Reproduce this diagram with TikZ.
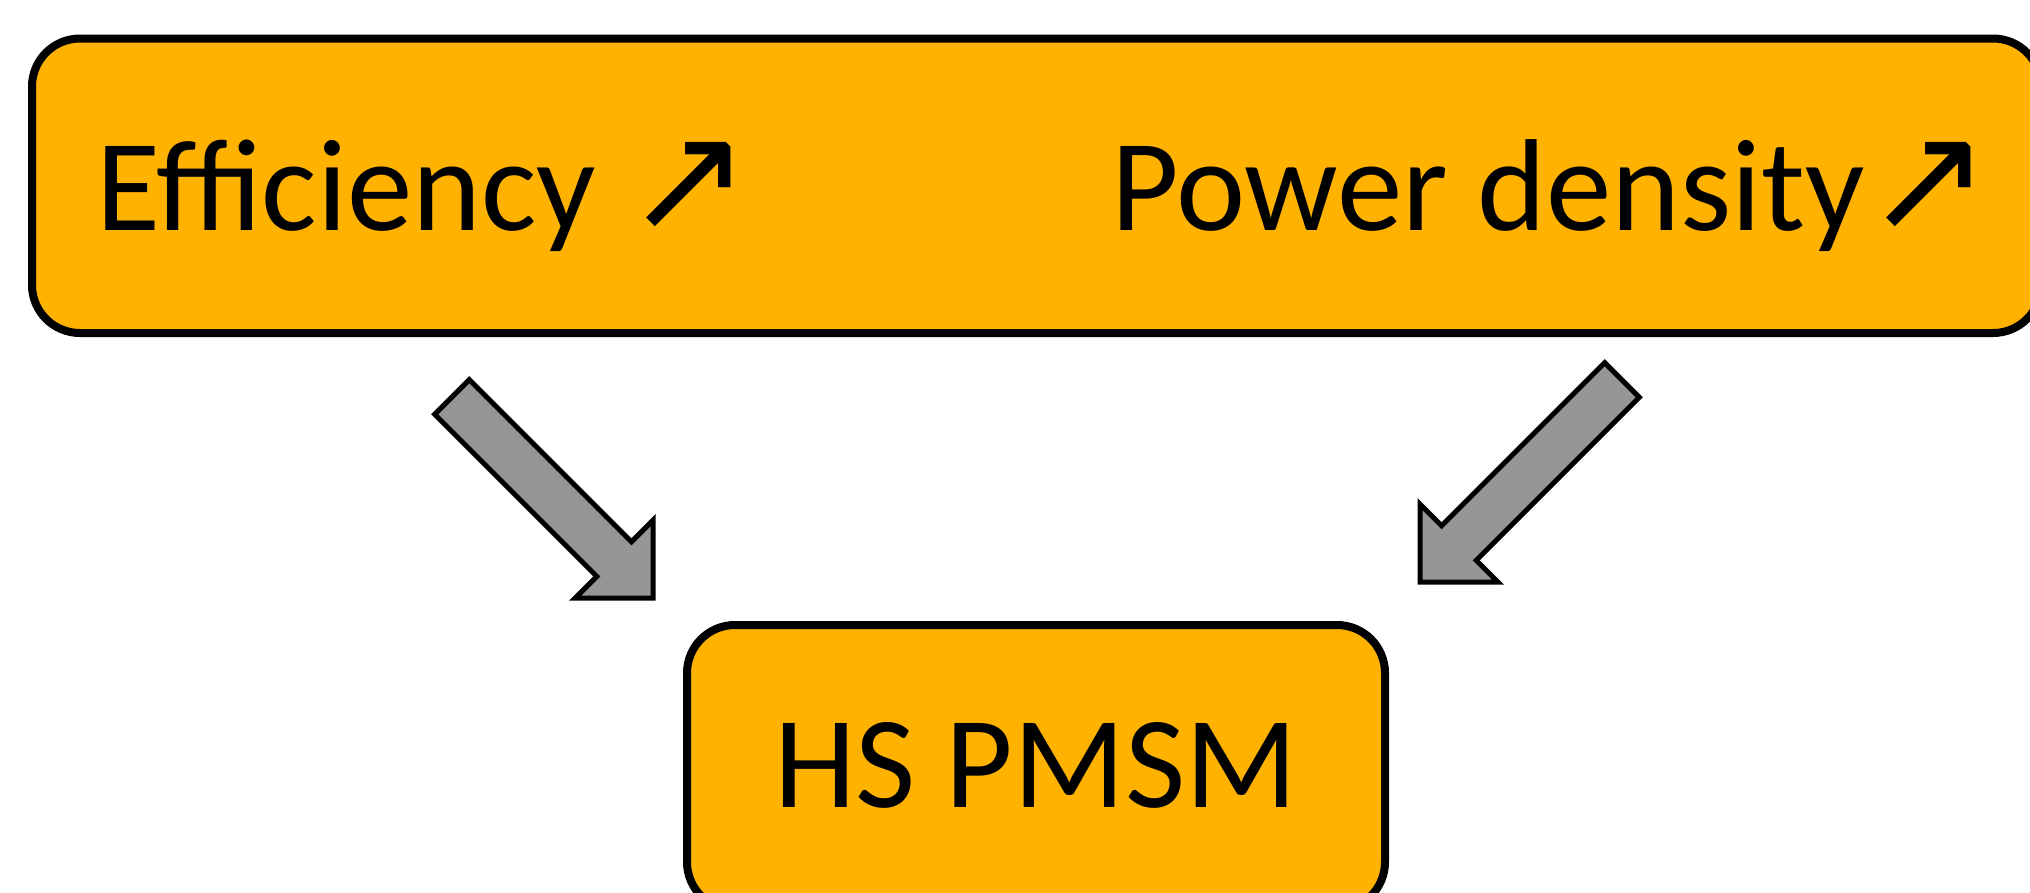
\documentclass[tikz,border=0pt]{standalone}
\usepackage{fontspec}
\setmainfont{Carlito}
\newfontfamily\arrowfont{DejaVu Sans}
\usetikzlibrary{calc}
\definecolor{boxorange}{RGB}{255,178,0}
\definecolor{arrowgray}{RGB}{150,150,150}
\newcommand{\upar}{{\arrowfont\fontsize{150}{160}\selectfont ↗}}
\tikzset{
  roundbox/.style={draw=black, line width=8pt, fill=boxorange, rounded corners=48pt, inner sep=0pt},
  bigtext/.style={inner sep=0pt, font=\fontsize{131}{157}\selectfont},
  blockarrow/.style={draw=black, line width=5pt, fill=arrowgray, line join=miter}
}
\begin{document}
\begin{tikzpicture}[x=1pt,y=-1pt]
\useasboundingbox (0,0) rectangle (2030,892);
% top box
\node[roundbox, minimum width=2009pt, minimum height=294.5pt] (top) at (1036.5,185.75) {};
\node[bigtext, anchor=base west] (eff) at (96,230) {Efficiency \upar};
\node[bigtext, anchor=base west] (pow) at (1111,230) {Power density\upar};
% bottom box
\node[roundbox, minimum width=698pt, minimum height=285pt] (bot) at (1036,767.5) {};
\node[bigtext, anchor=base] (hs) at (1036,807) {HS PMSM};
% arrows
\coordinate (lt) at (452,397);
\coordinate (lh) at (653,598);
\coordinate (rt) at (1622,380);
\coordinate (rh) at (1420,582);
\draw[blockarrow] (lh) -- ($(lh)+(0,-77.8)$) -- ($(lh)+(-21.6,-56.2)$)
  -- ($(lt)+(17.3,-17.3)$) -- ($(lt)+(-17.3,17.3)$)
  -- ($(lh)+(-56.2,-21.6)$) -- ($(lh)+(-77.8,0)$) -- cycle;
\draw[blockarrow] (rh) -- ($(rh)+(0,-77.8)$) -- ($(rh)+(21.6,-56.2)$)
  -- ($(rt)+(-17.3,-17.3)$) -- ($(rt)+(17.3,17.3)$)
  -- ($(rh)+(56.2,-21.6)$) -- ($(rh)+(77.8,0)$) -- cycle;
\end{tikzpicture}
\end{document}
